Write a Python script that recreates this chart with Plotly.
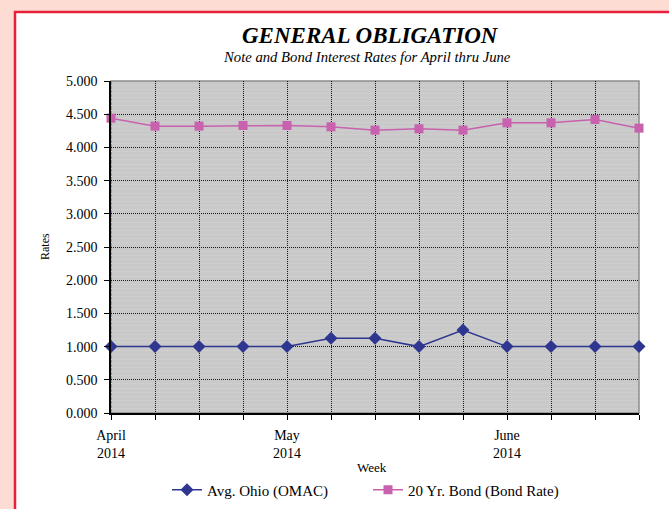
import plotly.graph_objects as go

weeks = list(range(13))
tick_text = ["April<br>2014", "", "", "", "May<br>2014", "", "", "", "", "June<br>2014", "", "", ""]
omac = [1.000, 1.000, 1.000, 1.000, 1.000, 1.125, 1.125, 1.000, 1.250, 1.000, 1.000, 1.000, 1.000]
bond = [4.44, 4.32, 4.32, 4.33, 4.33, 4.31, 4.26, 4.28, 4.26, 4.37, 4.37, 4.42, 4.29]

L, R, T, B = 111, 30, 81, 96
W, H = 669, 509
pw, ph = W - L - R, H - T - B

def px(x):
    return (x - L) / pw

def py(y):
    return (H - B - y) / ph

serif = "Liberation Serif, Times New Roman, serif"

fig = go.Figure()
fig.add_trace(go.Scatter(
    x=weeks, y=omac, name="Avg. Ohio (OMAC)", mode="lines+markers",
    line=dict(color="#2E3690", width=1.5),
    marker=dict(symbol="diamond", size=10, color="#2E3690"),
    cliponaxis=False,
))
fig.add_trace(go.Scatter(
    x=weeks, y=bond, name="20 Yr. Bond (Bond Rate)", mode="lines+markers",
    line=dict(color="#C861AE", width=1.5),
    marker=dict(symbol="square", size=9, color="#C861AE"),
    cliponaxis=False,
))

shapes = [
    dict(type="rect", xref="paper", yref="paper", x0=px(15), x1=px(700), y0=py(540), y1=py(12),
         fillcolor="white", line=dict(color="#E8203C", width=2.5), layer="below"),
    dict(type="rect", xref="paper", yref="paper", x0=0, x1=1, y0=0, y1=1,
         fillcolor="#C9C9C9", line=dict(color="#8C8C8C", width=1.5), layer="below"),
]

def ann(text, x, y, size, angle=0):
    return dict(text=text, xref="paper", yref="paper", x=px(x), y=py(y), xanchor="center",
                yanchor="middle", showarrow=False, textangle=angle,
                font=dict(family=serif, size=size, color="black"))

fig.update_layout(
    width=W, height=H,
    margin=dict(l=L, r=R, t=T, b=B, autoexpand=False),
    paper_bgcolor="#FCDCD3",
    plot_bgcolor="#C9C9C9",
    shapes=shapes,
    font=dict(family=serif, size=13, color="black"),
    showlegend=True,
    legend=dict(orientation="h", xref="container", yref="container",
                x=167 / W, xanchor="left", y=1 - 490 / H, yanchor="middle",
                entrywidth=156, entrywidthmode="pixels", bgcolor="rgba(0,0,0,0)",
                font=dict(family=serif, size=15), itemwidth=30),
    annotations=[
        ann("<b><i>GENERAL OBLIGATION</i></b>", 370, 35, 23),
        ann("<i>Note and Bond Interest Rates for April thru June</i>", 367, 57, 14.7),
        ann("Rates", 45, 247, 12, -90),
        ann("Week", 372, 467, 13),
    ],
)

fig.update_xaxes(
    range=[0, 12], tickmode="array", tickvals=weeks, ticktext=tick_text,
    showgrid=True, gridcolor="#1A1A1A", griddash="1px,1px", gridwidth=1,
    showline=True, linecolor="black", linewidth=1.5,
    ticks="outside", ticklen=5, tickcolor="black", automargin=False, ticklabelstandoff=3,
    tickfont=dict(family=serif, size=14), zeroline=False, fixedrange=True,
)
fig.update_yaxes(
    range=[0, 5], tickmode="array", tickvals=[i * 0.5 for i in range(11)],
    ticktext=[f"{i * 0.5:.3f}" for i in range(11)],
    showgrid=True, gridcolor="#1A1A1A", griddash="1px,1px", gridwidth=1,
    minor=dict(dtick=0.0625, showgrid=True, gridcolor="#D4D4D4", gridwidth=1),
    showline=True, linecolor="black", linewidth=1.5,
    ticks="outside", ticklen=5, tickcolor="black", automargin=False, ticklabelstandoff=4,
    tickfont=dict(family=serif, size=14), zeroline=False, fixedrange=True,
)

fig.write_html("out.html", config={"displayModeBar": False},
               post_script="document.body.style.margin='0';document.body.style.padding='0';")
